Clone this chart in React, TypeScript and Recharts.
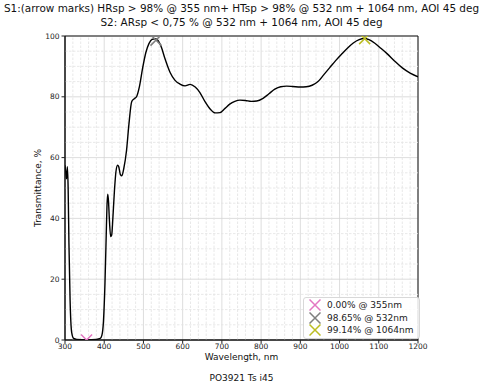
import {
  CartesianGrid,
  ComposedChart,
  Legend,
  Line,
  ReferenceArea,
  ReferenceLine,
  Scatter,
  XAxis,
  YAxis,
} from "recharts";

const wavelength = [
  300, 302, 304, 306, 308, 310, 313, 317, 322, 330, 355, 380, 390, 394, 398, 402, 405, 407, 409, 411, 413,
  416.5, 419, 422, 426, 430, 434, 437, 441, 445, 450, 457, 463, 470, 476, 483, 490, 498, 506, 514, 522, 530,
  538, 546, 555, 568, 580, 593, 606, 619, 632, 644, 657, 670, 683, 695, 708, 720, 733, 746, 760, 775, 789,
  805, 820, 835, 850, 865, 880, 900, 915, 930, 945, 960, 975, 990, 1005, 1020, 1035, 1050, 1062, 1075, 1090,
  1105, 1121, 1140, 1160, 1180, 1200,
];
const transmittance = [
  57.5, 55, 53, 57, 50, 32, 13, 2.5, 0.5, 0.2, 0.1, 0.2, 0.5, 1.5, 6, 19, 34, 44, 48, 45.5, 40, 34, 34.5, 40,
  49, 55.5, 57.5, 57, 54.5, 54, 56.5, 62.5, 71, 78.4, 79.3, 80.2, 83.5, 89.5, 94.5, 97.5, 98.9, 99.1, 98.4,
  96.2, 92.5, 88, 85.5, 84.2, 83.6, 84.1, 83.2, 81.4, 78.4, 76, 74.7, 74.8, 76.2, 77.6, 78.5, 78.9, 78.8,
  78.5, 78.6, 79.5, 81, 82.5, 83.3, 83.5, 83.4, 83.2, 83.3, 83.8, 85, 87.3, 89.6, 91.9, 94, 96, 97.7, 98.8,
  99.2, 98.8, 97.6, 96, 94.2, 91.8, 89.5, 87.8, 86.6,
];

// marker points
const markerLabels = ["0.00% @ 355nm", "98.65% @ 532nm", "99.14% @ 1064nm"];
const markerWl = [355, 532, 1064];
const markerT = [0.0, 98.65, 99.14];
const markerColors = ["#e377c2", "#7f7f7f", "#bcbd22"];

const xTicks = [300, 400, 500, 600, 700, 800, 900, 1000, 1100, 1200];
const yTicks = [0, 20, 40, 60, 80, 100];
const xMinor = [320, 340, 360, 380, 420, 440, 460, 480, 520, 540, 560, 580, 620, 640, 660, 680, 720, 740, 760, 780, 820, 840, 860, 880, 920, 940, 960, 980, 1020, 1040, 1060, 1080, 1120, 1140, 1160, 1180];
const yMinor = [5, 10, 15, 25, 30, 35, 45, 50, 55, 65, 70, 75, 85, 90, 95];

const curve = wavelength.map((w, i) => ({ w, t: transmittance[i] }));
const markers = markerWl.map((w, i) => ({ w, t: markerT[i], label: markerLabels[i], color: markerColors[i] }));

const FONT = "'DejaVu Sans', sans-serif";
const tickStyle = { fill: "#222", fontSize: 7.5, fontFamily: FONT };

function Cross(props: any) {
  const { cx, cy, payload } = props;
  const r = 5.5;
  return (
    <path
      d={`M${cx - r},${cy - r}L${cx + r},${cy + r}M${cx - r},${cy + r}L${cx + r},${cy - r}`}
      stroke={payload.color}
      strokeWidth={1.5}
      fill="none"
    />
  );
}

function MarkerLegend() {
  return (
    <div
      style={{
        border: "1px solid #d8d8d8",
        borderRadius: 3,
        background: "rgba(255,255,255,0.85)",
        padding: "1px 6px 1px 5px",
        fontFamily: FONT,
        fontSize: 9,
        color: "#222",
        lineHeight: "12.5px",
      }}
    >
      {markers.map((m) => (
        <div key={m.label} style={{ display: "flex", alignItems: "center" }}>
          <svg width={12} height={12} style={{ marginRight: 6 }}>
            <path d="M0.5,0.5L11.5,11.5M0.5,11.5L11.5,0.5" stroke={m.color} strokeWidth={1.5} />
          </svg>
          <span style={{ whiteSpace: "nowrap" }}>{m.label}</span>
        </div>
      ))}
    </div>
  );
}

export default function App() {
  return (
    <div style={{ position: "fixed", left: 0, top: 0, width: 483, height: 386, background: "#fff", fontFamily: FONT }}>
      <div style={{ position: "absolute", top: 1, left: 0, width: 483, textAlign: "center", fontSize: 10.45, lineHeight: "14px", color: "#111", whiteSpace: "nowrap" }}>
        <div>S1:(arrow marks) HRsp &gt; 98% @ 355 nm+ HTsp &gt; 98% @ 532 nm + 1064 nm, AOI 45 deg</div>
        <div>S2: ARsp &lt; 0,75 % @ 532 nm + 1064 nm, AOI 45 deg</div>
      </div>
      <ComposedChart
        width={483}
        height={386}
        data={curve}
        margin={{ top: 36, right: 65, bottom: 26, left: 35 }}
        style={{ position: "absolute", left: 0, top: 0 }}
      >
        <CartesianGrid stroke="#d4d4d4" strokeWidth={0.8} />
        {xMinor.map((v) => (
          <ReferenceLine key={"vx" + v} x={v} stroke="#e2e2e2" strokeWidth={0.8} strokeDasharray="2.5 1.5" ifOverflow="hidden" />
        ))}
        {yMinor.map((v) => (
          <ReferenceLine key={"hy" + v} y={v} stroke="#e2e2e2" strokeWidth={0.8} strokeDasharray="2.5 1.5" ifOverflow="hidden" />
        ))}
        <XAxis
          xAxisId="minor"
          dataKey="w"
          type="number"
          domain={[300, 1200]}
          ticks={xMinor}
          tickFormatter={() => ""}
          tickSize={2}
          axisLine={false}
          tickLine={{ stroke: "#222" }}
          height={0}
          allowDataOverflow
        />
        <XAxis
          dataKey="w"
          type="number"
          domain={[300, 1200]}
          ticks={xTicks}
          tick={tickStyle}
          tickSize={3.5}
          tickMargin={0}
          axisLine={{ stroke: "#111" }}
          tickLine={{ stroke: "#222" }}
          height={20}
          allowDataOverflow
        />
        <YAxis
          yAxisId="minor"
          type="number"
          domain={[0, 100]}
          ticks={yMinor}
          tickFormatter={() => ""}
          tickSize={2}
          axisLine={false}
          tickLine={{ stroke: "#222" }}
          width={0}
          allowDataOverflow
        />
        <YAxis
          type="number"
          domain={[0, 100]}
          ticks={yTicks}
          tick={tickStyle}
          tickSize={3.5}
          tickMargin={2}
          axisLine={{ stroke: "#111" }}
          tickLine={{ stroke: "#222" }}
          width={30}
          allowDataOverflow
        />
        <ReferenceArea x1={300} x2={1200} y1={0} y2={100} fill="none" fillOpacity={0} stroke="#111" strokeWidth={1} />
        <Line dataKey="t" type="monotone" stroke="#000" strokeWidth={1.4} dot={false} isAnimationActive={false} />
        <Scatter data={markers} dataKey="t" shape={<Cross />} isAnimationActive={false} />
        <Legend
          layout="vertical"
          align="center"
          verticalAlign="middle"
          content={<MarkerLegend />}
          wrapperStyle={{ position: "absolute", left: 303, top: 297, width: "auto", height: "auto", bottom: "auto", right: "auto" }}
        />
      </ComposedChart>
      <div style={{ position: "absolute", left: 65, top: 352, width: 353, textAlign: "center", fontSize: 9, color: "#111" }}>
        Wavelength, nm
      </div>
      <div
        style={{
          position: "absolute",
          left: 38 - 60,
          top: 188 - 6,
          width: 120,
          height: 12,
          lineHeight: "12px",
          textAlign: "center",
          fontSize: 9,
          color: "#111",
          transform: "rotate(-90deg)",
        }}
      >
        Transmittance, %
      </div>
      <div style={{ position: "absolute", left: 0, top: 373, width: 483, textAlign: "center", fontSize: 9, color: "#111" }}>
        PO3921 Ts i45
      </div>
    </div>
  );
}
